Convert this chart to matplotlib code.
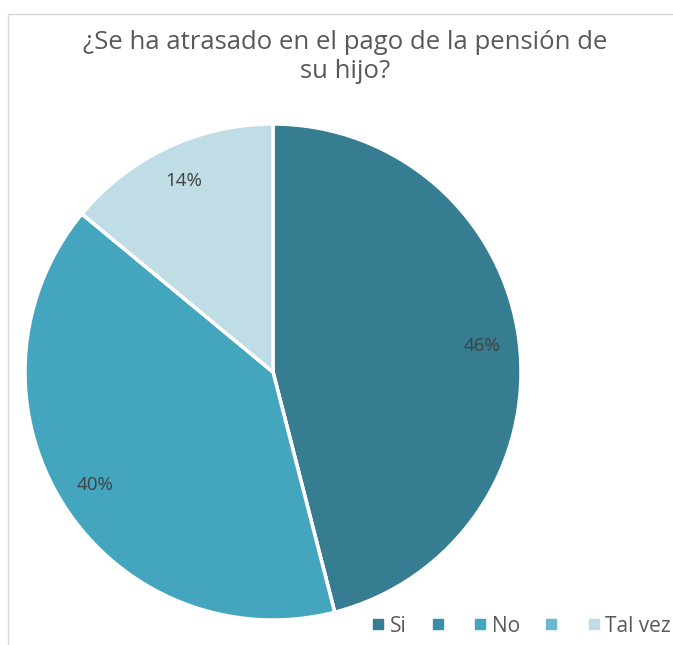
import matplotlib.pyplot as plt
from matplotlib.patches import Rectangle
from matplotlib.lines import Line2D

plt.rcParams['font.family'] = ['Open Sans', 'DejaVu Sans']

labels = ['Si', '', 'No', '', 'Tal vez']
values = [46, 0, 40, 0, 14]
colors = ['#367d91', '#3a8ea6', '#44a5bf', '#6bb8cc', '#c0dce5']
title = '¿Se ha atrasado en el pago de la pensión de\nsu hijo?'

W, H = 673, 645
fig = plt.figure(figsize=(W / 100, H / 100), dpi=100)

# chart border
fig.patches.append(Rectangle((8 / W, -0.1), 1.2, 1 - 14 / H + 0.1, transform=fig.transFigure,
                             fill=False, edgecolor='#d9d9d9', linewidth=1))

cx, cy, r = 273, 372, 248
ax = fig.add_axes([(cx - r) / W, 1 - (cy + r) / H, 2 * r / W, 2 * r / H])


def pct(p):
    return '%d%%' % round(p) if p > 0.5 else ''


wedges, texts, autotexts = ax.pie(values, colors=colors, startangle=90, counterclock=False,
                                  autopct=pct, pctdistance=0.85,
                                  wedgeprops=dict(edgecolor='white', linewidth=2.5),
                                  textprops=dict(color='#404040', fontsize=13.5))
ax.set_xlim(-1, 1)
ax.set_ylim(-1, 1)
ax.set_aspect('equal')

fig.text(345 / W, 1 - 57 / H, title, ha='center', va='center', fontsize=18.5,
         color='#595959', linespacing=1.2)

handles = [Line2D([], [], marker='s', linestyle='none', markersize=7, color=c) for c in colors]
fig.legend(handles, labels, ncol=5, loc='center right', bbox_to_anchor=(1.025, 1 - 626 / H),
           frameon=False, fontsize=15, labelcolor='#595959', handletextpad=0.05,
           columnspacing=1.0, handlelength=1.0)

fig.savefig('out.png', dpi=100)
